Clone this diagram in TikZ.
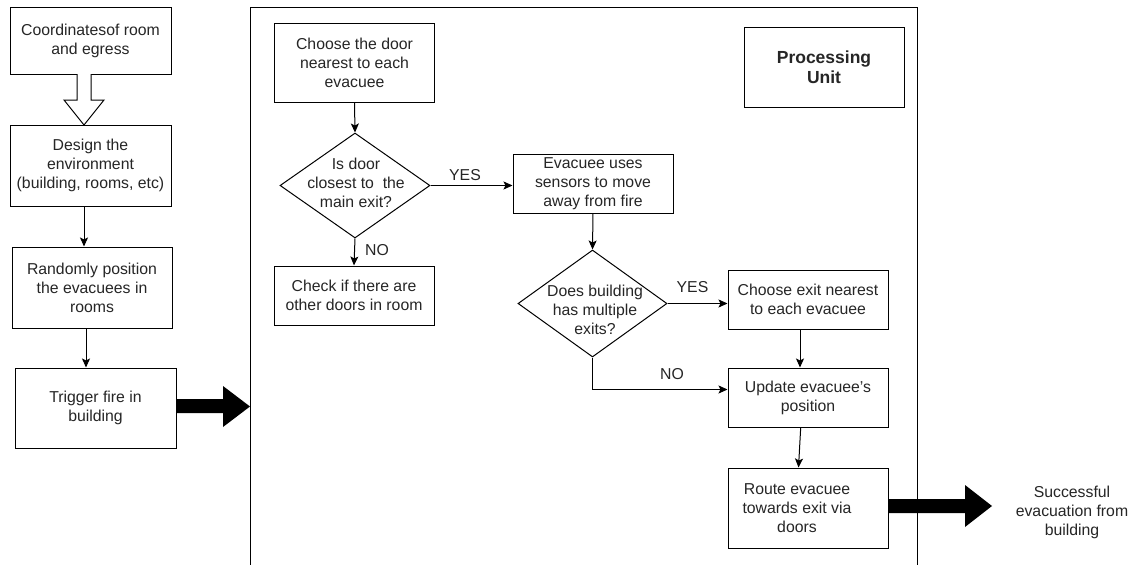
\documentclass[tikz,border=0pt]{standalone}
\usepackage{fontspec}
\setmainfont{Liberation Sans}
\usetikzlibrary{arrows.meta,shapes.geometric}
\begin{document}
\begin{tikzpicture}[x=1pt,y=-1pt,
  every node/.style={text=black!85},
  box/.style={draw=black, line width=1pt, align=center, inner sep=0pt, font=\fontsize{15.8}{19}\selectfont},
  dia/.style={draw=black, line width=1pt, shape=diamond, inner sep=0pt, minimum width=150pt, minimum height=105pt},
  lbl/.style={align=center, inner sep=0pt, font=\fontsize{15.8}{19}\selectfont},
  arr/.style={draw=black, line width=1pt, -{Stealth[length=9pt,width=8pt,inset=2pt]}},
  fat/.style={fill=black, draw=none},
  frame/.style={draw=black, line width=1pt},
]
\useasboundingbox[fill=white] (0,0) rectangle (1130,565);

% helper coordinates for off-centre connectors
\coordinate (x84) at (84,0);
\coordinate (x86) at (86,0);
\coordinate (x800) at (800,0);
\coordinate (x801) at (800.7,0);
\coordinate (x798) at (798.5,0);
\coordinate (y390) at (0,389.5);

% left column
\node[box, minimum width=161pt, minimum height=67pt] (b1) at (90.5,40.5) {Coordinatesof room\\and egress};
\node[box, minimum width=161pt, minimum height=81pt] (b2) at (90.5,165.5) {Design the\\environment\\(building, rooms, etc)};
\node[box, minimum width=160pt, minimum height=81pt] (b3) at (92,287.5) {Randomly position\\the evacuees in\\rooms};
\node[box, minimum width=161pt, minimum height=80pt] (b4) at (95.5,408) {Trigger fire in\\building};

% hollow block arrow b1 -> b2
\draw[line width=1pt, fill=white] (77,74) -- (77,100) -- (64,100) -- (84,125) -- (104,100) -- (91,100) -- (91,74);

\draw[arr] (b2.south -| x84) -- (b3.north -| x84);
\draw[arr] (b3.south -| x86) -- (b4.north -| x86);

% processing unit frame
\draw[frame] (250,565) -- (250,7) -- (917,7) -- (917,565);

% fat arrow into the frame
\fill[fat] (176,399) -- (223,399) -- (223,386) -- (250,406.5) -- (223,427) -- (223,413) -- (176,413) -- cycle;

\node[box, minimum width=160pt, minimum height=80pt, font=\bfseries\fontsize{17.5}{20.5}\selectfont] (pu) at (824,67) {Processing\\Unit};

% inner flow
\node[box, minimum width=160pt, minimum height=79pt] (cd) at (354.5,62.5) {Choose the door\\nearest to each\\evacuee};
\node[dia] (d1) at (355,185.5) {};
\node[lbl] (d1t) at (356,183) {Is door\\closest to\ \ the\\main exit?};
\node[box, minimum width=160pt, minimum height=59pt] (ck) at (354,295.5) {Check if there are\\other doors in room};

\node[box, minimum width=160pt, minimum height=59pt] (ev) at (593,183.5) {Evacuee uses\\sensors to move\\away from fire};
\node[dia, minimum width=149pt, minimum height=107pt] (d2) at (592.5,303.5) {};
\node[lbl] (d2t) at (595,310) {Does building\\has multiple\\exits?};

\node[box, minimum width=160pt, minimum height=59pt] (ce) at (808,299.5) {Choose exit nearest\\to each evacuee};
\node[box, minimum width=160pt, minimum height=59pt] (up) at (808,397.5) {Update evacuee's\\position};
\node[box, minimum width=160pt, minimum height=80pt] (rt) at (808,508) {};
\node[lbl] (rtt) at (797,508) {Route evacuee\\towards exit via\\doors};

\draw[arr] (cd.south) -- (d1.north);
\draw[arr] (d1.south) -- (ck.north);
\node[lbl] (no1) at (377,250) {NO};
\draw[arr] (d1.east) -- (ev.west |- d1.east);
\node[lbl] (yes1) at (465,175) {YES};

\draw[arr] (ev.south) -- (d2.north);
\draw[arr] (d2.east) -- (ce.west |- d2.east);
\node[lbl] (yes2) at (692.5,287) {YES};
\draw[arr] (d2.south) |- (up.west |- y390);
\node[lbl] (no2) at (672,374) {NO};

\draw[arr] (ce.south -| x800) -- (up.north -| x800);
\draw[arr] (up.south -| x801) -- (rt.north -| x798);

% fat arrow out
\fill[fat] (888,499) -- (965,499) -- (965,485) -- (992,506) -- (965,527) -- (965,513) -- (888,513) -- cycle;

\node[lbl] (succ) at (1072,512) {Successful\\evacuation from\\building};
\end{tikzpicture}
\end{document}
